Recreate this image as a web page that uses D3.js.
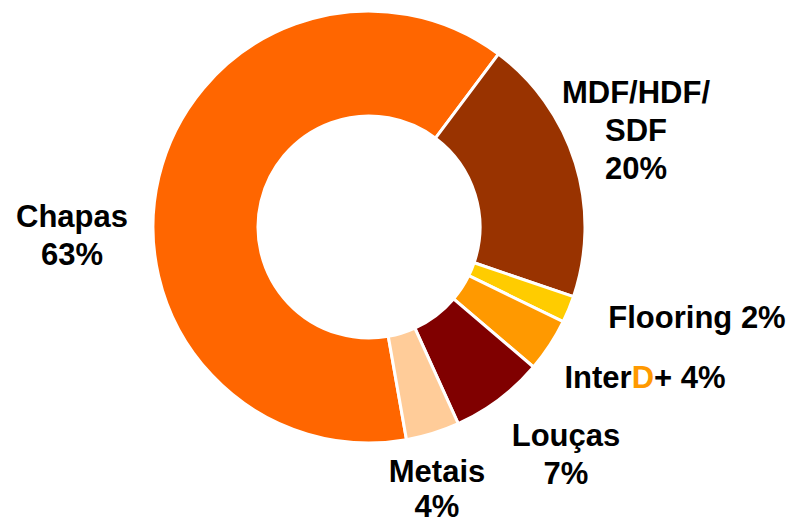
<!DOCTYPE html>
<html>
<head>
<meta charset="utf-8">
<script src="https://cdn.jsdelivr.net/npm/d3@7/dist/d3.min.js"></script>
<style>
  body { margin: 0; background: #fff; }
  svg text { font-family: Arial, "Liberation Sans", sans-serif; font-weight: bold; font-size: 31px; fill: #000; }
</style>
</head>
<body>
<svg id="chart" width="791" height="525"></svg>
<script>
// data, clockwise order starting at the bottom of the ring
const categories = ["Chapas", "MDF/HDF/SDF", "Flooring", "InterD+", "Louças", "Metais"];
const shares = [63, 20, 2, 4, 7, 4];
const colors = ["#FF6600", "#993300", "#FFCC00", "#FF9900", "#800000", "#FFCC99"];

// label layout: text lines, centre x, first baseline y, line step (page pixels)
const labelLayout = [
  { lines: ["Chapas", "63%"], x: 72, y: 227, step: 38 },
  { lines: ["MDF/HDF/", "SDF", "20%"], x: 636, y: 103, step: 38 },
  { lines: ["Flooring 2%"], x: 697, y: 328, step: 38 },
  { lines: ["InterD+ 4%"], x: 645, y: 388, step: 38 },
  { lines: ["Louças", "7%"], x: 566, y: 446, step: 38 },
  { lines: ["Metais", "4%"], x: 437, y: 482, step: 35 }
];

const svg = d3.select("#chart");
const cx = 369, cy = 227, outerR = 216, innerR = 111;
const start = 170 * Math.PI / 180;

const pie = d3.pie().sort(null).value(d => d.v)
  .startAngle(start).endAngle(start + 2 * Math.PI);
const arc = d3.arc().innerRadius(innerR).outerRadius(outerR);

const slices = pie(categories.map((c, i) => ({ name: c, v: shares[i], color: colors[i] })));

svg.append("g")
  .attr("transform", `translate(${cx},${cy})`)
  .selectAll("path")
  .data(slices)
  .enter().append("path")
  .attr("d", arc)
  .attr("fill", d => d.data.color)
  .attr("stroke", "#fff")
  .attr("stroke-width", 3)
  .attr("stroke-linejoin", "miter");

const labels = svg.append("g");
labelLayout.forEach((l, i) => {
  const t = labels.append("text").attr("text-anchor", "middle");
  l.lines.forEach((line, j) => {
    const ts = t.append("tspan").attr("x", l.x).attr("y", l.y + j * l.step);
    if (categories[i] === "InterD+" && j === 0) {
      // brand name with orange D
      ts.append("tspan").text("Inter");
      ts.append("tspan").style("fill", "#FF9900").text("D");
      ts.append("tspan").text(line.slice(6));
    } else {
      ts.text(line);
    }
  });
});
</script>
</body>
</html>
